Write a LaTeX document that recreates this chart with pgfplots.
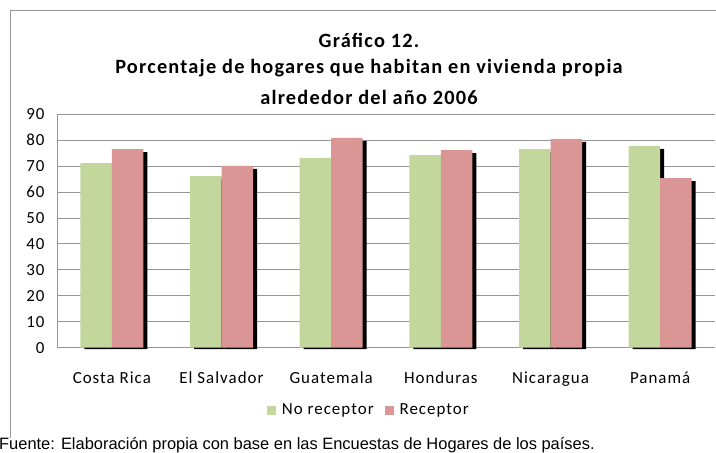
\documentclass[border=0pt]{standalone}
\usepackage{pgfplots}
\pgfplotsset{compat=1.18}
\usepackage{pgfplotstable}
\usepackage{fontspec}
\setmainfont{Carlito}[LetterSpace=6]
\newfontfamily\footfont{Liberation Sans}
\definecolor{verde}{HTML}{C3D69B}
\definecolor{rojo}{HTML}{D99694}
\definecolor{gridc}{HTML}{969696}
\pgfplotstableread{
idx g r
0 71.2 76.6
1 66.2 70.1
2 73.2 80.9
3 74.3 76.2
4 76.6 80.5
5 77.8 65.4
}\datos
\begin{document}
\begin{tikzpicture}
\path[use as bounding box] (0,0) rectangle (716bp,453bp);
\draw[color=gridc, line width=1bp] (10bp,15bp) -- (10bp,442bp) -- (720bp,442bp);
\node[font=\bfseries\fontsize{20.4}{24}\selectfont] at (369bp,413bp) {Gráfico 12.};
\node[font=\bfseries\fontsize{20.4}{24}\selectfont] at (369bp,385bp) {Porcentaje de hogares que habitan en vivienda propia};
\node[font=\bfseries\fontsize{20.4}{24}\selectfont] at (369bp,356bp) {alrededor del año 2006};
\node[font=\footfont\fontsize{16.5}{19}\selectfont, anchor=base west, inner sep=0pt] at (-1bp,4bp) {Fuente: Elaboración propia con base en las Encuestas de Hogares de los países.};
\begin{axis}[
  at={(57bp,105.3bp)}, anchor=south west,
  scale only axis, width=658bp, height=233.4bp,
  xmin=-0.5, xmax=5.5, ymin=0, ymax=90,
  ytick={0,10,...,90},
  xtick=data,
  xticklabels={Costa Rica,El Salvador,Guatemala,Honduras,Nicaragua,Panamá},
  ybar, bar width=31.5bp,
  clip=false,
  ymajorgrids, grid style={gridc, line width=1bp},
  axis line style={gridc, line width=1bp},
  axis x line*=bottom, axis y line*=left,
  major tick length=0pt,
  /pgf/number format/assume math mode=true,
  tick label style={font=\fontsize{17}{20}\selectfont},
  yticklabel style={xshift=-9bp},
  xticklabel style={yshift=-21bp},
  legend style={at={(0.474,-0.267)}, anchor=center, draw=none, legend columns=2,
    font=\fontsize{17}{20}\selectfont,
    /tikz/every even column/.append style={column sep=9bp}},
  legend image code/.code={\fill[#1] (0bp,-4.5bp) rectangle (9bp,4.5bp); \path (0bp,0bp) -- (13bp,0bp);},
]
\addplot[fill=black, draw=none, bar shift=-11.75bp, yshift=-1.3bp, forget plot] table[x=idx, y expr=\thisrow{g}-0.65] {\datos};
\addplot[fill=verde, draw=none, bar shift=-15.75bp] table[x=idx, y=g] {\datos};
\addplot[fill=black, draw=none, bar shift=19.75bp, yshift=-1.3bp, forget plot] table[x=idx, y expr=\thisrow{r}-0.65] {\datos};
\addplot[fill=rojo, draw=none, bar shift=15.75bp] table[x=idx, y=r] {\datos};
\legend{No receptor, Receptor}
\end{axis}
\end{tikzpicture}
\end{document}
